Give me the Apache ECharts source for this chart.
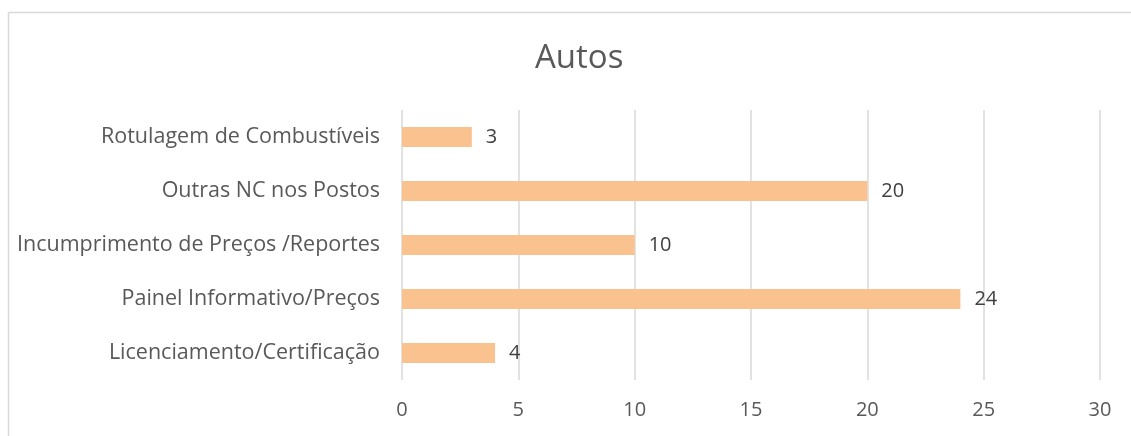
<!DOCTYPE html>
<html><head><meta charset="utf-8">
<script src="https://cdn.jsdelivr.net/npm/echarts@6/dist/echarts.min.js"></script>
<style>html,body{margin:0;padding:0;background:#fff}#c{width:1131px;height:436px}</style>
</head><body><div id="c"></div>
<script>
const categories = ["Licenciamento/Certificação","Painel Informativo/Preços","Incumprimento de Preços /Reportes","Outras NC nos Postos","Rotulagem de Combustíveis"];
const values = [4,24,10,20,3];
const titleText = "Autos";
const chart = echarts.init(document.getElementById('c'));
const font = "'Open Sans', sans-serif";
chart.setOption({
  animation:false,
  graphic:[
    {type:'line',shape:{x1:8.5,y1:12.5,x2:1131,y2:12.5},style:{stroke:'#d9d9d9',lineWidth:1.5},silent:true},
    {type:'line',shape:{x1:8.5,y1:12.5,x2:8.5,y2:436},style:{stroke:'#d9d9d9',lineWidth:1.5},silent:true}
  ],
  title:{text:titleText,left:530,top:37,textStyle:{fontFamily:font,fontSize:33,fontWeight:'normal',color:'#595959'}},
  grid:{left:402,right:31,top:110,bottom:56},
  xAxis:{type:'value',min:0,max:30,interval:5,axisLine:{show:false},axisTick:{show:false},
    splitLine:{lineStyle:{color:'#d9d9d9',width:1.5}},
    axisLabel:{margin:20,fontFamily:font,fontSize:20,color:'#595959'}},
  yAxis:{type:'category',data:categories,axisLine:{show:false},axisTick:{show:false},
    axisLabel:{margin:22,fontFamily:font,fontSize:21.5,color:'#595959'}},
  series:[{type:'bar',data:values,barWidth:20,itemStyle:{color:'#f9c28f'},
    label:{show:true,position:'right',distance:14,fontFamily:font,fontSize:20,color:'#404040'}}]
});
</script></body></html>
